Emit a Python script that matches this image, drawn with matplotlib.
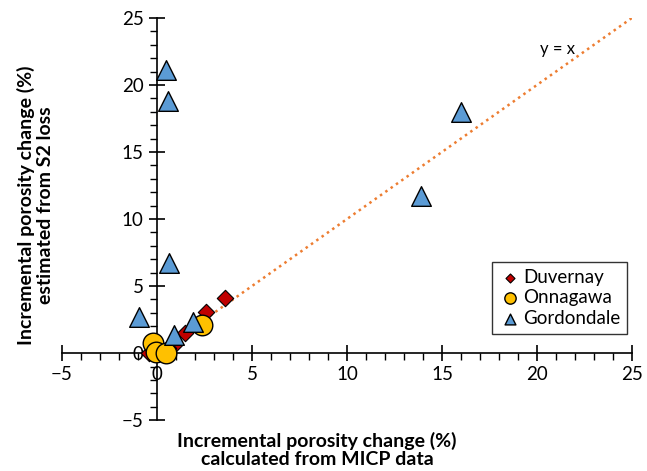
import matplotlib.pyplot as plt
from matplotlib.ticker import MultipleLocator

plt.rcParams['font.family'] = ['Lato', 'DejaVu Sans']

duv_x = [3.6, 2.6, 1.5, 0.95, 0.6, -0.4]
duv_y = [4.1, 3.1, 1.5, 0.7, 0.4, 0.0]

onn_x = [2.35, -0.2, -0.05, 0.5]
onn_y = [2.1, 0.75, 0.1, 0.0]

gor_x = [0.45, 0.6, 16.0, 13.9, 0.65, -0.95, 0.9, 1.9]
gor_y = [21.1, 18.8, 18.0, 11.7, 6.7, 2.7, 1.35, 2.35]

line_x = [0, 25]
line_y = [0, 25]

fig = plt.figure(figsize=(6.47, 4.71), dpi=100)
ax = fig.add_axes([0.0958, 0.108, 0.881, 0.854])

ax.plot(line_x, line_y, linestyle=(0, (1, 1.6)), color='#ED7D31', linewidth=1.8, zorder=1)
ax.scatter(duv_x, duv_y, marker='D', s=70, c='#C00000', edgecolors='black',
           linewidths=0.8, label='Duvernay', zorder=3)
ax.scatter(onn_x, onn_y, marker='o', s=220, c='#FFC000', edgecolors='black',
           linewidths=1, label='Onnagawa', zorder=3)
ax.scatter(gor_x, gor_y, marker='^', s=200, c='#5B9BD5', edgecolors='black',
           linewidths=1, label='Gordondale', zorder=3)

ax.text(21.1, 22.7, 'y = x', fontsize=12, ha='center', va='center')

ax.set_xlim(-5, 25)
ax.set_ylim(-5, 25)
ax.spines['left'].set_position(('data', 0))
ax.spines['bottom'].set_position(('data', 0))
ax.spines['top'].set_visible(False)
ax.spines['right'].set_visible(False)
ax.xaxis.set_major_locator(MultipleLocator(5))
ax.yaxis.set_major_locator(MultipleLocator(5))
ax.xaxis.set_minor_locator(MultipleLocator(1))
ax.yaxis.set_minor_locator(MultipleLocator(1))
ax.tick_params(which='major', direction='inout', length=12, width=1.2, labelsize=13.5)
ax.tick_params(which='minor', direction='out', length=5, width=1)
for s in ['left', 'bottom']:
    ax.spines[s].set_linewidth(1.2)

fig.text(0.055, 0.565, 'Incremental porosity change (%)\nestimated from S2 loss',
         rotation=90, ha='center', va='center', fontsize=14, fontweight='bold',
         linespacing=1.1)
fig.text(0.49, 0.045, 'Incremental porosity change (%)\ncalculated from MICP data',
         ha='center', va='center', fontsize=14, fontweight='bold', linespacing=1.1)

leg = ax.legend(loc='upper right', bbox_to_anchor=(0.991, 0.393), fontsize=13.5,
                frameon=True, fancybox=False, edgecolor='black',
                handletextpad=0.1, borderpad=0.35, labelspacing=0.2,
                markerscale=0.55, handlelength=1.2, borderaxespad=0)
leg.get_frame().set_linewidth(1)

plt.savefig('out.png', dpi=100)
